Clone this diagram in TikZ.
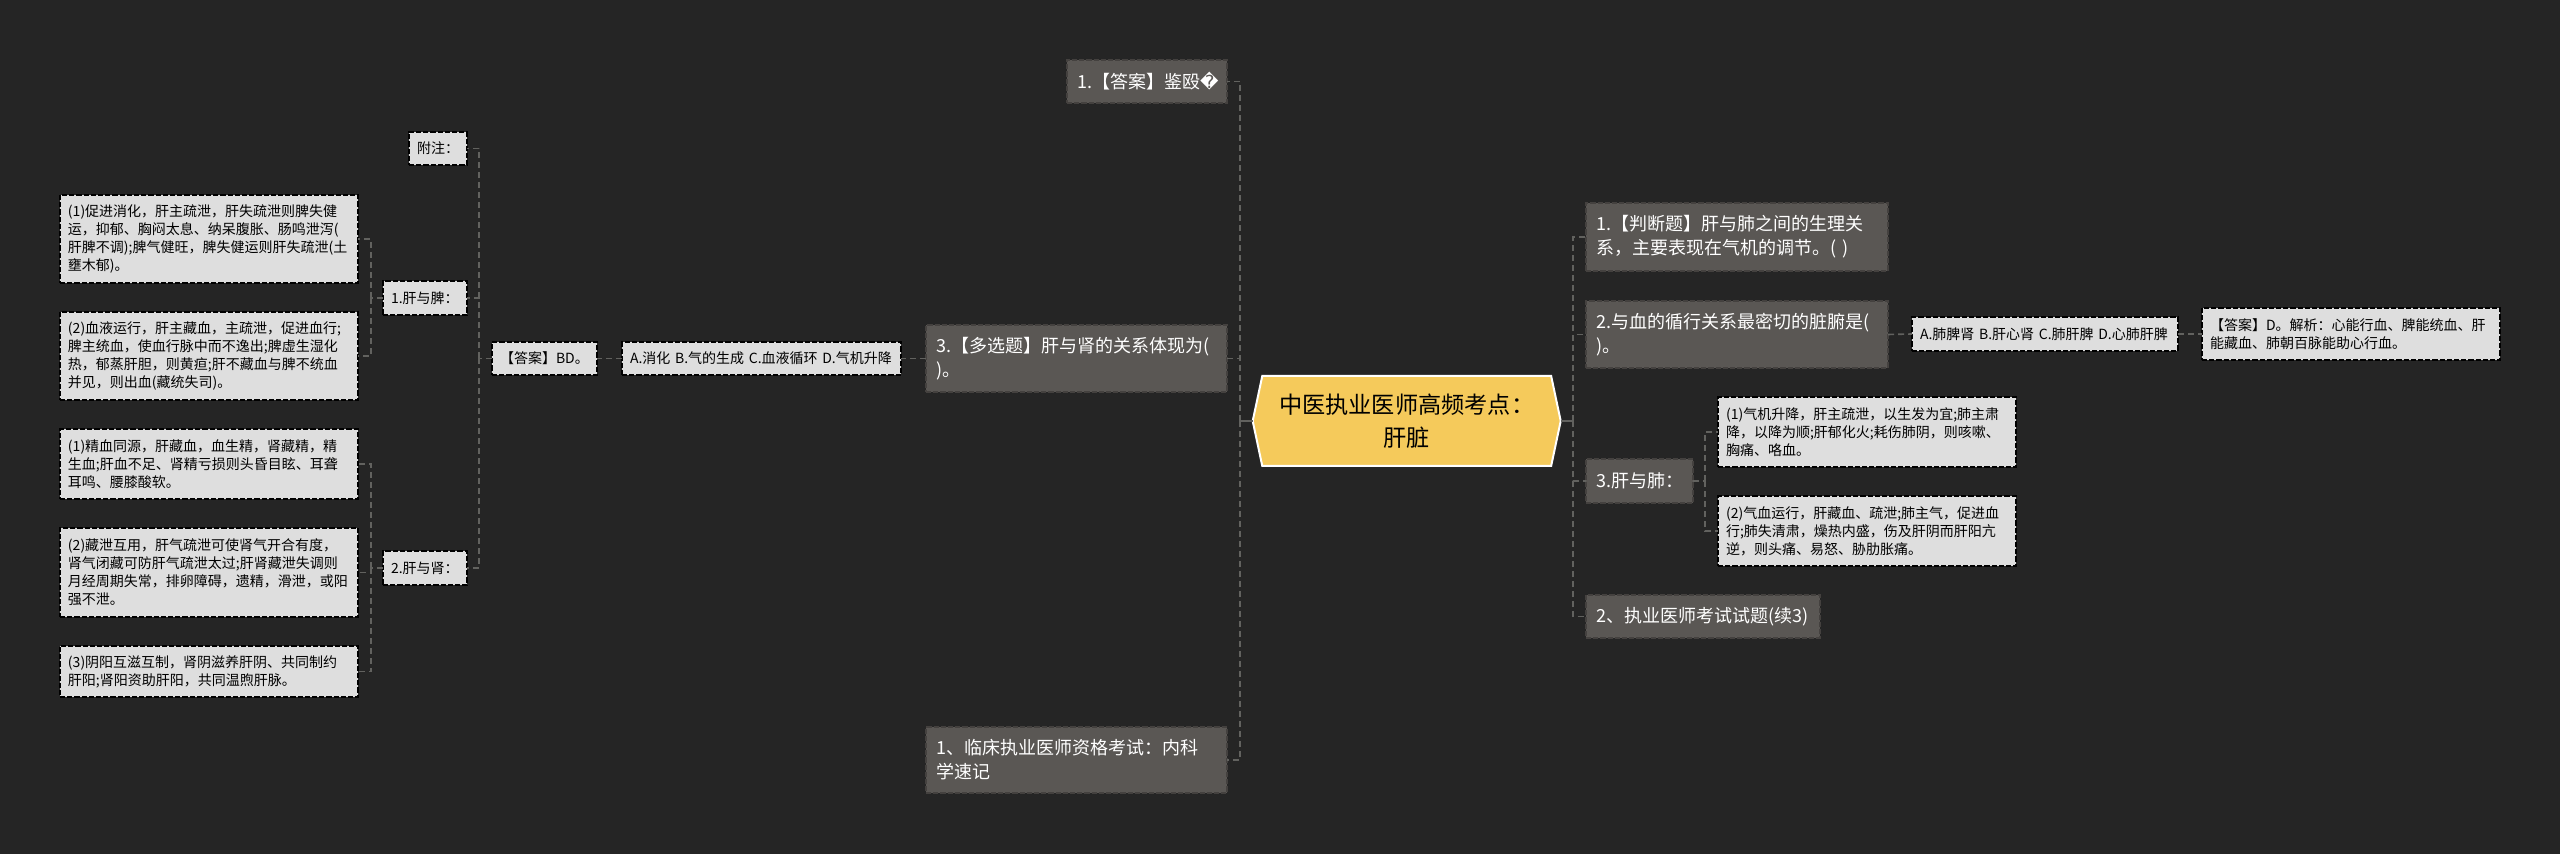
\documentclass[tikz,border=0pt]{standalone}
\usepackage{fontspec}
\setmainfont{Noto Sans CJK SC}
\newfontfamily\symbfont{DejaVu Sans}
\usetikzlibrary{shapes.symbols}
\definecolor{bgdark}{HTML}{252525}
\definecolor{boxdark}{HTML}{5A5754}
\definecolor{boxlight}{HTML}{DEDEDE}
\definecolor{rootyellow}{HTML}{F5CA5B}
\definecolor{linkgray}{HTML}{62625F}
\tikzset{
	lightbox/.style 2 args={anchor=north west, fill=boxlight, draw=black, line width=0.6pt, dash pattern=on 2.6pt off 1pt,
		text=black, font=\fontsize{7}{9}\selectfont, align=left, inner xsep=4pt, inner ysep=0pt, outer sep=0pt,
		minimum width=#1*0.5pt, minimum height=#2*0.5pt, text width=#1*0.5pt-8pt},
	darkbox/.style 2 args={anchor=north west, fill=boxdark, draw=black!25!boxdark, line width=0.6pt, dash pattern=on 2.6pt off 1pt,
		text=white, font=\fontsize{9}{12}\selectfont, align=left, inner xsep=5pt, inner ysep=0pt, outer sep=0pt,
		minimum width=#1*0.5pt, minimum height=#2*0.5pt, text width=#1*0.5pt-10pt},
	rootbox/.style={signal, signal to=east and west, signal pointer angle=156, fill=rootyellow, draw=white, line width=1pt,
		text=black, font=\fontsize{11.6}{16.5}\selectfont, align=center, inner sep=0pt, outer sep=0pt,
		minimum width=154pt, minimum height=45pt},
	link/.style={draw=linkgray, line width=0.8pt, dash pattern=on 3pt off 2pt},
	rootlink/.style={draw=linkgray, line width=1.3pt}
}

\begin{document}
\begin{tikzpicture}[x=0.5pt, y=-0.5pt]
	\fill[bgdark] (0,0) rectangle (2560,854);
	\useasboundingbox (0,0) rectangle (2560,854);

	\node[rootbox] (root) at (1406.7,421) {中医执业医师高频考点：\\肝脏};

	\node[darkbox={160}{43}] (qone) at (1067,60) {1.【答案】鉴殴{\symbfont ^^^^fffd}};
	\node[darkbox={301}{67}] (qthree) at (926,325) {3.【多选题】肝与肾的关系体现为(\\)。};
	\node[darkbox={301}{66}] (qlast) at (926,727) {1、临床执业医师资格考试：内科\\学速记};

	\node[lightbox={279}{33}] (optsleft) at (622,342) {A.消化 B.气的生成 C.血液循环 D.气机升降};
	\node[lightbox={105}{33}] (ansleft) at (492,342) {【答案】BD。};

	\node[lightbox={58}{33}] (note) at (409,132) {附注：};
	\node[lightbox={84}{34}] (liverspleen) at (383,281) {1.肝与脾：};
	\node[lightbox={84}{34}] (liverkidney) at (383,551) {2.肝与肾：};

	\node[lightbox={298}{88}] (spleenone) at (60,195) {(1)促进消化，肝主疏泄，肝失疏泄则脾失健\\运，抑郁、胸闷太息、纳呆腹胀、肠鸣泄泻(\\肝脾不调);脾气健旺，脾失健运则肝失疏泄(土\\壅木郁)。};
	\node[lightbox={298}{88}] (spleentwo) at (60,312) {(2)血液运行，肝主藏血，主疏泄，促进血行;\\脾主统血，使血行脉中而不逸出;脾虚生湿化\\热，郁蒸肝胆，则黄疸;肝不藏血与脾不统血\\并见，则出血(藏统失司)。};
	\node[lightbox={298}{70}] (kidneyone) at (60,429) {(1)精血同源，肝藏血，血生精，肾藏精，精\\生血;肝血不足、肾精亏损则头昏目眩、耳聋\\耳鸣、腰膝酸软。};
	\node[lightbox={298}{89}] (kidneytwo) at (60,528) {(2)藏泄互用，肝气疏泄可使肾气开合有度，\\肾气闭藏可防肝气疏泄太过;肝肾藏泄失调则\\月经周期失常，排卵障碍，遗精，滑泄，或阳\\强不泄。};
	\node[lightbox={298}{51}] (kidneythree) at (60,646) {(3)阴阳互滋互制，肾阴滋养肝阴、共同制约\\肝阳;肾阳资助肝阳，共同温煦肝脉。};

	\node[darkbox={302}{68}] (rone) at (1586,203) {1.【判断题】肝与肺之间的生理关\\系，主要表现在气机的调节。( )};
	\node[darkbox={302}{67}] (rtwo) at (1586,301) {2.与血的循行关系最密切的脏腑是(\\)。};
	\node[darkbox={107}{44}] (rthree) at (1586,459) {3.肝与肺：};
	\node[darkbox={234}{43}] (rfour) at (1586,595) {2、执业医师考试试题(续3)};

	\node[lightbox={266}{34}] (optsright) at (1912,317) {A.肺脾肾 B.肝心肾 C.肺肝脾 D.心肺肝脾};
	\node[lightbox={298}{52}] (ansright) at (2202,308) {【答案】D。解析：心能行血、脾能统血、肝\\能藏血、肺朝百脉能助心行血。};
	\node[lightbox={298}{70}] (lungone) at (1718,397) {(1)气机升降，肝主疏泄，以生发为宜;肺主肃\\降，以降为顺;肝郁化火;耗伤肺阴，则咳嗽、\\胸痛、咯血。};
	\node[lightbox={298}{70}] (lungtwo) at (1718,496) {(2)气血运行，肝藏血、疏泄;肺主气，促进血\\行;肺失清肃，燥热内盛，伤及肝阴而肝阳亢\\逆，则头痛、易怒、胁肋胀痛。};

	\coordinate (spineleft) at (1240,421);
	\coordinate (spineright) at (1573,421);
	\coordinate (spineans) at (479,358.5);
	\coordinate (spinespleen) at (371,298);
	\coordinate (spinekidney) at (371,568);
	\coordinate (spinelung) at (1705,481);

	\draw[rootlink] (root.west) -- (spineleft);
	\draw[rootlink] (root.east) -- (spineright);
	\foreach \kid in {qone,qthree,qlast}
		\draw[link] (spineleft) |- (\kid.east);
	\foreach \kid in {rone,rtwo,rthree,rfour}
		\draw[link] (spineright) |- (\kid.west);

	\draw[link] (qthree.west) -- (optsleft.east);
	\draw[link] (optsleft.west) -- (ansleft.east);
	\draw[link] (ansleft.west) -- (spineans);
	\foreach \kid in {note,liverspleen,liverkidney}
		\draw[link] (spineans) |- (\kid.east);
	\draw[link] (liverspleen.west) -- (spinespleen);
	\foreach \kid in {spleenone,spleentwo}
		\draw[link] (spinespleen) |- (\kid.east);
	\draw[link] (liverkidney.west) -- (spinekidney);
	\foreach \kid in {kidneyone,kidneytwo,kidneythree}
		\draw[link] (spinekidney) |- (\kid.east);

	\draw[link] (rtwo.east) -- (optsright.west);
	\draw[link] (optsright.east) -- (ansright.west);
	\draw[link] (rthree.east) -- (spinelung);
	\foreach \kid in {lungone,lungtwo}
		\draw[link] (spinelung) |- (\kid.west);
\end{tikzpicture}
\end{document}
